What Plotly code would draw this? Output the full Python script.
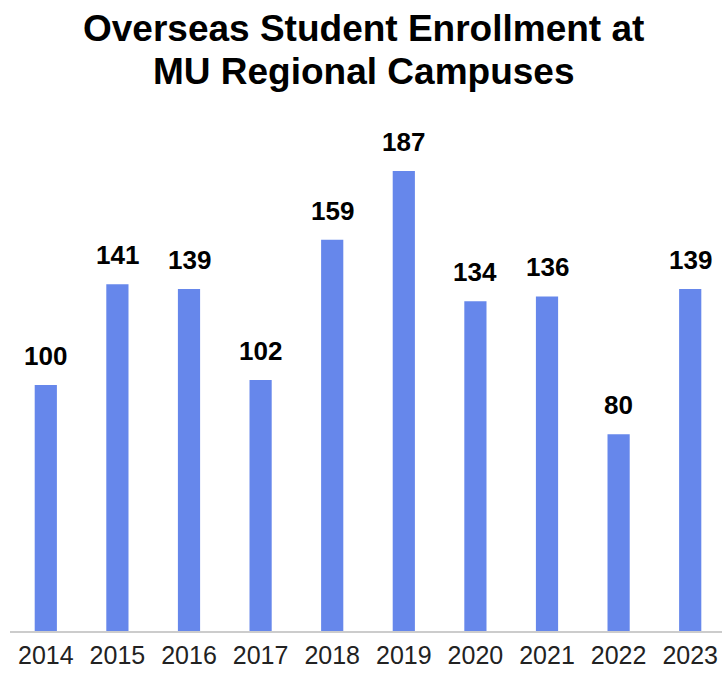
import plotly.graph_objects as go

years = ["2014", "2015", "2016", "2017", "2018", "2019", "2020", "2021", "2022", "2023"]
enrollment = [100, 141, 139, 102, 159, 187, 134, 136, 80, 139]

title_lines = ["Overseas Student Enrollment at", "MU Regional Campuses"]
bar_color = "#6687EB"
font_family = "Liberation Sans, Arial, sans-serif"

fig = go.Figure()
fig.add_trace(go.Bar(
    x=years, y=enrollment,
    marker=dict(color=bar_color, line=dict(width=0)),
    hoverinfo="skip",
))

for i, v in enumerate(enrollment):
    fig.add_annotation(
        x=i, y=v, xref="x", yref="y", text=f"<b>{v}</b>", showarrow=False,
        yanchor="bottom", yshift=12,
        font=dict(family=font_family, size=26, color="#000000"),
    )

plot_top = 100
plot_bottom = 631
plot_h = plot_bottom - plot_top
px_per_unit = 2.46
ymax = plot_h / px_per_unit

# title lines placed individually to control line spacing
for line, pix_y in zip(title_lines, [29, 72]):
    fig.add_annotation(
        x=0.497, xref="paper", xanchor="center",
        y=(plot_bottom - pix_y) / plot_h, yref="paper", yanchor="middle",
        text=f"<b>{line}</b>", showarrow=False,
        font=dict(family=font_family, size=37, color="#000000"),
    )

fig.update_layout(
    width=722, height=673,
    margin=dict(l=10, r=0, t=plot_top, b=673 - plot_bottom),
    paper_bgcolor="white", plot_bgcolor="white",
    bargap=0.69,
    showlegend=False,
    xaxis=dict(
        type="category",
        range=[-0.5, 9.444],
        automargin=False,
        showline=True, linecolor="#cccccc", linewidth=2,
        showgrid=False, ticks="",
        tickfont=dict(family=font_family, size=25, color="#222222"),
        ticklabelstandoff=1,
    ),
    yaxis=dict(
        range=[0, ymax], visible=False, showgrid=False, zeroline=False,
    ),
)

fig.write_html("out.html")
